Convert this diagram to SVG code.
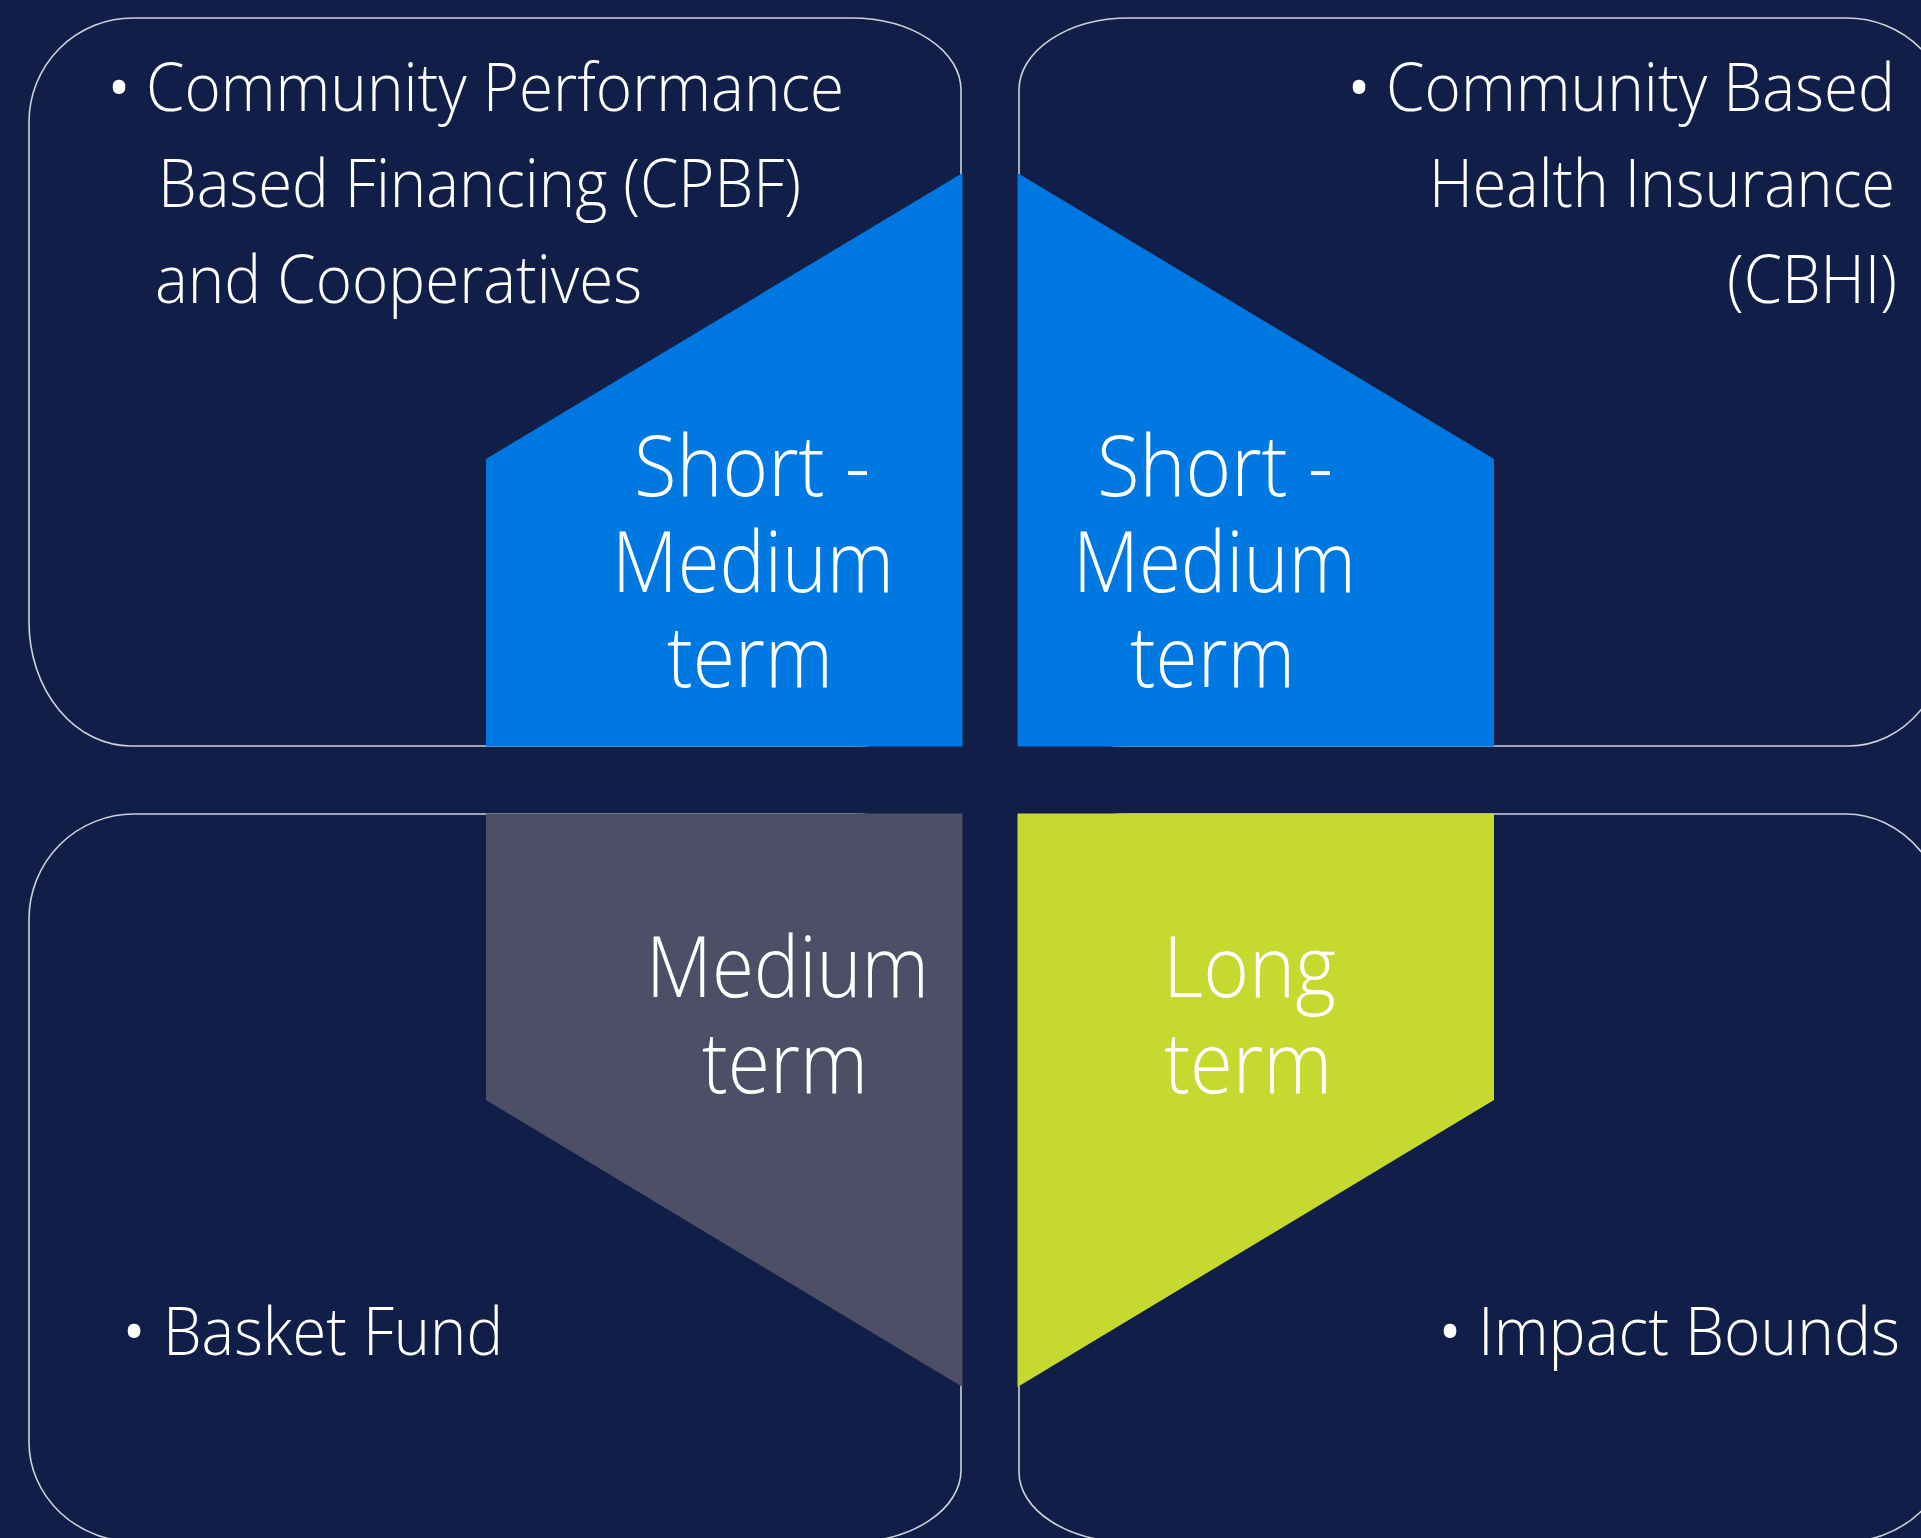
<svg xmlns="http://www.w3.org/2000/svg" width="1921" height="1538" viewBox="0 0 1921 1538">
  <style>
    .frame { fill: none; stroke: #cfd2dc; stroke-width: 1.6; }
    .blue { fill: #0078e2; }
    .grey { fill: #4d4f67; }
    .lime { fill: #c6d92f; }
    .item { font-family: "Open Sans", "Liberation Sans", sans-serif; font-weight: 300; font-size: 66px; fill: #ffffff; }
    .dot { font-family: "Open Sans", "Liberation Sans", sans-serif; font-weight: 400; font-size: 60px; fill: #ffffff; text-anchor: middle; }
    .term { font-family: "Open Sans", "Liberation Sans", sans-serif; font-weight: 300; font-size: 85px; fill: #ffffff; }
  </style>

  <!-- page background -->
  <rect x="0" y="0" width="1921" height="1538" fill="#111f48"/>

  <!-- upper left quadrant: CPBF and cooperatives -->
  <g id="quadrant-cpbf">
    <path class="frame" d="M133,18 H851 A110,72 0 0 1 961,90 V642 A104,104 0 0 1 857,746 H131 A102,124 0 0 1 29,622 V122 A104,104 0 0 1 133,18 Z"/>
    <polygon class="blue" points="486,459 962.5,173 962.5,746.5 486,746.5"/>
    <text class="dot" x="119" y="109">•</text>
    <text class="item" x="146" y="111" textLength="698" lengthAdjust="spacingAndGlyphs">Community Performance</text>
    <text class="item" x="158" y="207" textLength="643" lengthAdjust="spacingAndGlyphs">Based Financing (CPBF)</text>
    <text class="item" x="155" y="303" textLength="487" lengthAdjust="spacingAndGlyphs">and Cooperatives</text>
    <text class="term" x="634" y="496" textLength="236" lengthAdjust="spacingAndGlyphs">Short -</text>
    <text class="term" x="612" y="592" textLength="282" lengthAdjust="spacingAndGlyphs">Medium</text>
    <text class="term" x="667" y="687" textLength="166" lengthAdjust="spacingAndGlyphs">term</text>
  </g>

  <!-- upper right quadrant: CBHI -->
  <g id="quadrant-cbhi">
    <path class="frame" d="M1129,18 H1847 A104,104 0 0 1 1951,122 V622 A102,124 0 0 1 1849,746 H1123 A104,104 0 0 1 1019,642 V90 A110,72 0 0 1 1129,18 Z"/>
    <polygon class="blue" points="1017.5,173 1494,459 1494,746.5 1017.5,746.5"/>
    <text class="dot" x="1359" y="109">•</text>
    <text class="item" x="1386" y="111" textLength="509" lengthAdjust="spacingAndGlyphs">Community Based</text>
    <text class="item" x="1429" y="207" textLength="466" lengthAdjust="spacingAndGlyphs">Health Insurance</text>
    <text class="item" x="1727" y="303" textLength="170" lengthAdjust="spacingAndGlyphs">(CBHI)</text>
    <text class="term" x="1097" y="496" textLength="236" lengthAdjust="spacingAndGlyphs">Short -</text>
    <text class="term" x="1073" y="592" textLength="283" lengthAdjust="spacingAndGlyphs">Medium</text>
    <text class="term" x="1130" y="687" textLength="165" lengthAdjust="spacingAndGlyphs">term</text>
  </g>

  <!-- lower left quadrant: basket fund -->
  <g id="quadrant-basket">
    <path class="frame" d="M134,814 H851 A110,72 0 0 1 961,886 V1470 A110,72 0 0 1 851,1542 H136 A107,100 0 0 1 29,1442 V919 A105,105 0 0 1 134,814 Z"/>
    <polygon class="grey" points="486,813.5 962.5,813.5 962.5,1387 486,1100"/>
    <text class="dot" x="134" y="1353">•</text>
    <text class="item" x="163" y="1355" textLength="340" lengthAdjust="spacingAndGlyphs">Basket Fund</text>
    <text class="term" x="646" y="997" textLength="283" lengthAdjust="spacingAndGlyphs">Medium</text>
    <text class="term" x="702" y="1093" textLength="166" lengthAdjust="spacingAndGlyphs">term</text>
  </g>

  <!-- lower right quadrant: impact bonds -->
  <g id="quadrant-impact">
    <path class="frame" d="M1129,814 H1846 A105,125 0 0 1 1951,939 V1442 A107,100 0 0 1 1844,1542 H1129 A110,70 0 0 1 1019,1472 V886 A110,72 0 0 1 1129,814 Z"/>
    <polygon class="lime" points="1017.5,813.5 1494,813.5 1494,1100 1017.5,1387"/>
    <text class="dot" x="1450" y="1353">•</text>
    <text class="item" x="1478" y="1355" textLength="422" lengthAdjust="spacingAndGlyphs">Impact Bounds</text>
    <text class="term" x="1163" y="997" textLength="173" lengthAdjust="spacingAndGlyphs">Long</text>
    <text class="term" x="1164" y="1093" textLength="168" lengthAdjust="spacingAndGlyphs">term</text>
  </g>
</svg>
